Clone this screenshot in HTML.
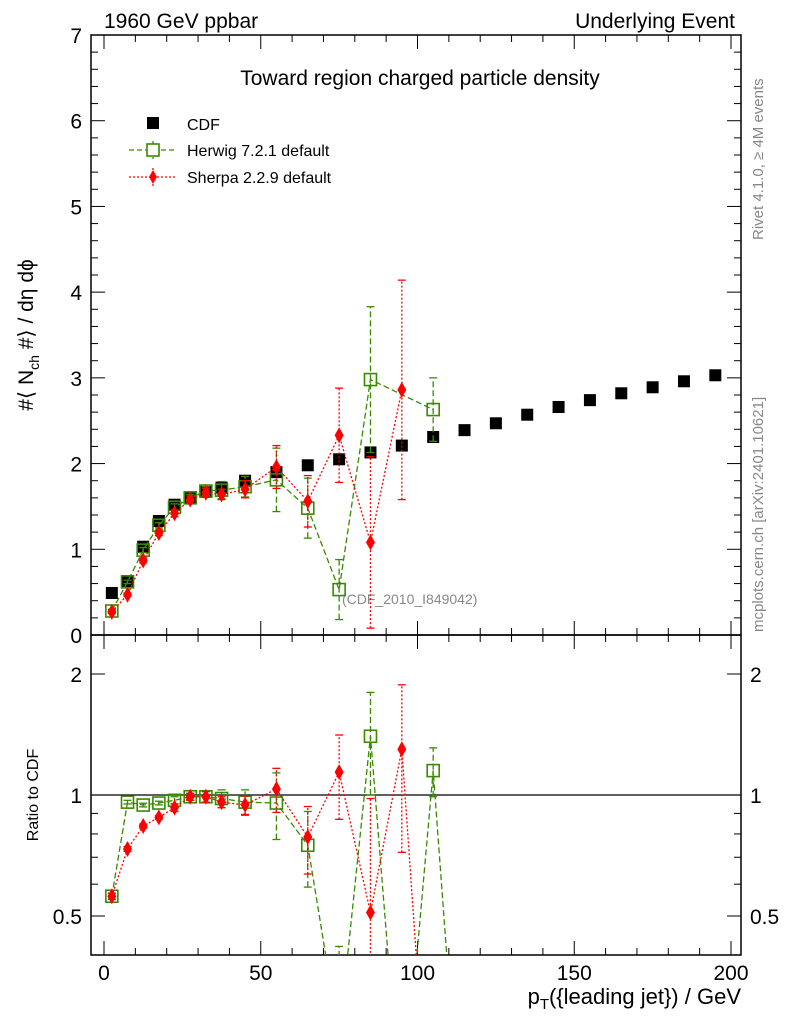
<!DOCTYPE html>
<html><head><meta charset="utf-8"><style>
html,body{margin:0;background:#fff;overflow:hidden;width:786px;height:1024px;}
svg{font-family:"Liberation Sans",sans-serif;display:block;}
</style></head><body>
<svg id="c" width="786" height="1024" viewBox="0 0 786 1024">
<defs>
<clipPath id="cm"><rect x="91" y="35" width="650" height="600"/></clipPath>
<clipPath id="cr"><rect x="91" y="635" width="650" height="320"/></clipPath>
</defs>
<g id="g"></g>
</svg>
<script>
const xCdf=[2.5,7.5,12.5,17.5,22.5,27.5,32.5,37.5,45,55,65,75,85,95,105,115,125,135,145,155,165,175,185,195];
const yCdf=[0.49,0.63,1.03,1.33,1.52,1.6,1.67,1.72,1.8,1.9,1.98,2.05,2.13,2.21,2.31,2.39,2.47,2.57,2.66,2.74,2.82,2.89,2.96,3.03];
const xHw=[2.5,7.5,12.5,17.5,22.5,27.5,32.5,37.5,45,55,65,75,85,105];
const yHw=[0.28,0.62,0.99,1.28,1.49,1.6,1.68,1.69,1.73,1.81,1.48,0.53,2.98,2.63];
const eHw=[0.02,0.02,0.03,0.03,0.04,0.04,0.05,0.1,0.12,0.37,0.35,0.35,0.85,0.37];
const xSh=[2.5,7.5,12.5,17.5,22.5,27.5,32.5,37.5,45,55,65,75,85,95];
const ySh=[0.27,0.47,0.87,1.19,1.42,1.58,1.66,1.64,1.7,1.96,1.56,2.33,1.08,2.86];
const eSh=[0.02,0.02,0.03,0.03,0.04,0.04,0.05,0.06,0.1,0.25,0.3,0.55,1.0,1.28];
// ratio panel values
const xHwR=[2.5,7.5,12.5,17.5,22.5,27.5,32.5,37.5,45,55,65,75,85,95,105,115];
const rHw=[0.56,0.96,0.944,0.955,0.97,0.99,0.99,0.98,0.96,0.955,0.75,0.25,1.4,0.15,1.15,0.1];
const reHw=[0.01,0.01,0.01,0.01,0.02,0.02,0.03,0.05,0.07,0.18,0.16,0.17,0.4,0,0.16,0];
const xShR=[2.5,7.5,12.5,17.5,22.5,27.5,32.5,37.5,45,55,65,75,85,95,105];
const rSh=[0.56,0.734,0.837,0.88,0.93,0.99,0.99,0.96,0.945,1.035,0.786,1.14,0.51,1.3,0.1];
const reSh=[0.01,0.01,0.01,0.01,0.02,0.02,0.03,0.03,0.05,0.13,0.15,0.27,0.47,0.58,0];
const xTicks=[0,50,100,150,200];
const yTicks=[0,1,2,3,4,5,6,7];
const rTicks=[0.5,1,2];

const NS="http://www.w3.org/2000/svg";
const G=document.getElementById('g');
const X=v=>104+v*3.135;
const Y=v=>635-v*85.714;
const R=v=>795-121*Math.log2(v);
function mk(t,a,p){const e=document.createElementNS(NS,t);for(const k in a)e.setAttribute(k,a[k]);(p||G).appendChild(e);return e;}
function txt(s,a,p){const e=mk('text',a,p);e.textContent=s;return e;}

let f1=mk('rect',{x:91,y:35,width:650,height:600,fill:'none',stroke:'#000','stroke-width':1.5});

let f2=mk('rect',{x:91,y:635,width:650,height:320,fill:'none',stroke:'#000','stroke-width':1.5});


for(let v=0;v<=200;v+=10){const maj=v%50==0;const L=maj?14:7;
 for(const [yb,yt] of [[635,35],[955,635]]){
  mk('line',{x1:X(v),x2:X(v),y1:yb,y2:yb-L,stroke:'#000'});
  mk('line',{x1:X(v),x2:X(v),y1:yt,y2:yt+L,stroke:'#000'});
 }}
xTicks.forEach(v=>{const t=txt(v,{x:X(v),y:980,'font-size':21,'text-anchor':'middle'});
 });
for(let v=0;v<=7.0001;v+=0.2){const maj=Math.abs(v-Math.round(v))<1e-6;const L=maj?14:7;
 mk('line',{x1:91,x2:91+L,y1:Y(v),y2:Y(v),stroke:'#000'});
 mk('line',{x1:741,x2:741-L,y1:Y(v),y2:Y(v),stroke:'#000'});}
yTicks.forEach(v=>{const t=txt(v,{x:82,y:Y(v)+8,'font-size':21,'text-anchor':'end'});
 });
[0.4,0.5,0.6,0.7,0.8,0.9,1,2].forEach(v=>{const maj=rTicks.includes(v);const L=maj?14:7;
 mk('line',{x1:91,x2:91+L,y1:R(v),y2:R(v),stroke:'#000'});
 mk('line',{x1:741,x2:741-L,y1:R(v),y2:R(v),stroke:'#000'});});
rTicks.forEach(v=>{let t=txt(v,{x:82,y:R(v)+8,'font-size':21,'text-anchor':'end'});
 
 t=txt(v,{x:750,y:R(v)+8,'font-size':21});
 });
mk('line',{x1:91,x2:741,y1:R(1),y2:R(1),stroke:'#000','stroke-width':1.2});

let t;
t=txt('1960 GeV ppbar',{x:104,y:28,'font-size':21});
t=txt('Underlying Event',{x:735,y:28,'font-size':21,'text-anchor':'end'});
t=txt('Toward region charged particle density',{x:420,y:85,'font-size':21,'text-anchor':'middle'});
t=txt('(CDF_2010_I849042)',{x:342,y:604,'font-size':14,fill:'#888'});
t=mk('text',{transform:'translate(33,335) rotate(-90)','font-size':21,'text-anchor':'middle'});
t.innerHTML='#⟨ N<tspan font-size="14" dy="6">ch</tspan><tspan dy="-6"> #⟩ / dη dϕ</tspan>';

t=txt('Ratio to CDF',{transform:'translate(38,795) rotate(-90)','font-size':16,'text-anchor':'middle'});
t=mk('text',{x:741,y:1004,'font-size':22,'text-anchor':'end'});
t.innerHTML='p<tspan font-size="15" dy="5">T</tspan><tspan dy="-5">({leading jet}) / GeV</tspan>';

t=txt('Rivet 4.1.0, ≥ 4M events',{transform:'translate(763,240) rotate(-90)','font-size':15,fill:'#888'});
t=txt('mcplots.cern.ch [arXiv:2401.10621]',{transform:'translate(763,632) rotate(-90)','font-size':15,fill:'#888'});

t=mk('rect',{x:147,y:117,width:12,height:12,fill:'#000'});
t=txt('CDF',{x:187,y:130,'font-size':16});
mk('line',{x1:129,x2:177,y1:150,y2:150,stroke:'#3a8a00','stroke-dasharray':'5,3','stroke-width':1.3});
mk('line',{x1:153,x2:153,y1:141,y2:159,stroke:'#3a8a00','stroke-dasharray':'5,3','stroke-width':1.3});
t=mk('rect',{x:147,y:144,width:12,height:12,fill:'#fff',stroke:'#3a8a00','stroke-width':1.6});
t=txt('Herwig 7.2.1 default',{x:187,y:156,'font-size':16});
mk('line',{x1:129,x2:177,y1:177,y2:177,stroke:'#f00','stroke-dasharray':'2,2','stroke-width':1.3});
mk('line',{x1:153,x2:153,y1:168,y2:186,stroke:'#f00','stroke-dasharray':'2,2','stroke-width':1.3});
t=mk('path',{d:'M153,170 L157,177 L153,184 L149,177Z',fill:'#f00'});
t=txt('Sherpa 2.2.9 default',{x:187,y:183,'font-size':16});

const gm=mk('g',{'clip-path':'url(#cm)'});
const gr=mk('g',{'clip-path':'url(#cr)'});
function series(xs,ys,es,col,dash,kind,name,yf,par){
 const pts=xs.map((x,i)=>[X(x),yf(ys[i])]);
 const pl=mk('polyline',{points:pts.map(p=>p.join(',')).join(' '),fill:'none',stroke:col,'stroke-dasharray':dash,'stroke-width':1.3},par);
 
 xs.forEach((x,i)=>{
  const lo=Math.max(ys[i]-es[i],0.01),hi=ys[i]+es[i];
  const y1=yf(lo),y2=yf(hi),px=pts[i][0],py=pts[i][1];
  if(es[i]>0){
  mk('line',{x1:px,x2:px,y1:y1,y2:y2,stroke:col,'stroke-dasharray':dash,'stroke-width':1.3},par);
  mk('line',{x1:px-4,x2:px+4,y1:y1,y2:y1,stroke:col,'stroke-width':1.3},par);
  mk('line',{x1:px-4,x2:px+4,y1:y2,y2:y2,stroke:col,'stroke-width':1.3},par);}
  let m;
  if(kind=='sq'){m=mk('rect',{x:px-6,y:py-6,width:12,height:12,fill:'none',stroke:col,'stroke-width':1.6},par);}
  else{m=mk('path',{d:`M${px},${py-8} L${px+4.5},${py} L${px},${py+8} L${px-4.5},${py}Z`,fill:col},par);}
  
 });
}
xCdf.forEach((x,i)=>{const m=mk('rect',{x:X(x)-6,y:Y(yCdf[i])-6,width:12,height:12,fill:'#000'},gm);
 });
series(xHw,yHw,eHw,'#3a8a00','6,3','sq','herwig',Y,gm);
series(xSh,ySh,eSh,'#f00','2,2','di','sherpa',Y,gm);
series(xHwR,rHw,reHw,'#3a8a00','6,3','sq','herwig-ratio',R,gr);
series(xShR,rSh,reSh,'#f00','2,2','di','sherpa-ratio',R,gr);
</script>
</body></html>
